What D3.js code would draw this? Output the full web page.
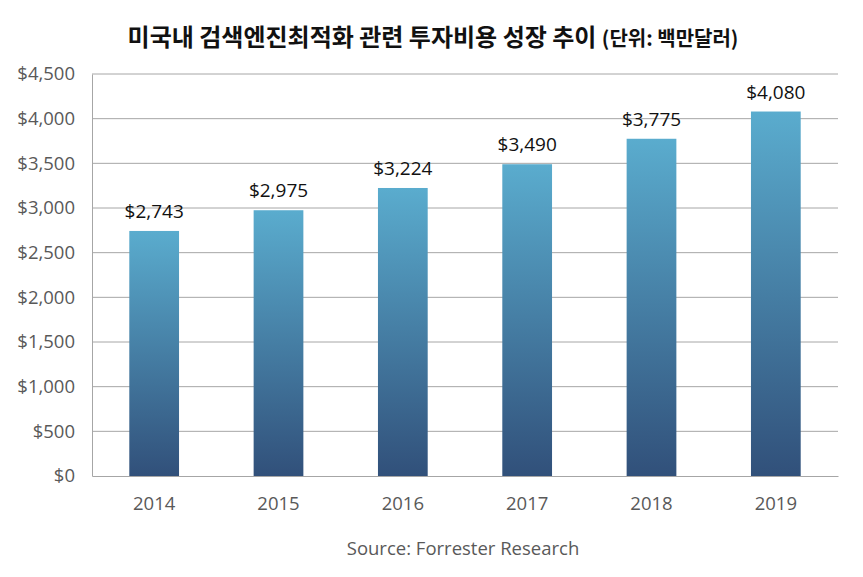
<!DOCTYPE html>
<html><head><meta charset="utf-8">
<script src="https://cdn.jsdelivr.net/npm/d3@7"></script>
<style>body{margin:0;background:#fff;} svg{display:block;}</style>
</head><body>
<script>
const years = ["2014","2015","2016","2017","2018","2019"];
const values = [2743, 2975, 3224, 3490, 3775, 4080];
const yTicks = [0,500,1000,1500,2000,2500,3000,3500,4000,4500];
const titleMain = "미국내 검색엔진최적화 관련 투자비용 성장 추이 ";
const titleUnit = "(단위: 백만달러)";
const sourceText = "Source: Forrester Research";

const W = 863, H = 577;
const m = {left: 92, right: 25, top: 74, bottom: 101};
const svg = d3.select("body").append("svg").attr("width", W).attr("height", H);

const x = d3.scaleBand().domain(years).range([m.left, W - m.right]).paddingInner(0.6).paddingOuter(0.3);
const y = d3.scaleLinear().domain([0, 4500]).range([H - m.bottom, m.top]);

const defs = svg.append("defs");
const g = defs.append("linearGradient").attr("id","barGrad").attr("x1",0).attr("y1",0).attr("x2",0).attr("y2",1);
g.append("stop").attr("offset","0%").attr("stop-color","#5aacce");
g.append("stop").attr("offset","100%").attr("stop-color","#31507a");

const font = "'Open Sans', 'Noto Sans', sans-serif";

// gridlines
svg.append("g").selectAll("line").data(yTicks.slice(1)).join("line")
  .attr("x1", m.left).attr("x2", W - m.right)
  .attr("y1", d => y(d)).attr("y2", d => y(d))
  .attr("stroke", "#a6a6a6").attr("stroke-width", 1);

// y axis
const yAxis = d3.axisLeft(y).tickValues(yTicks).tickSize(0).tickPadding(17)
  .tickFormat(d => "$" + d3.format(",")(d));
const ya = svg.append("g").attr("transform", `translate(${m.left},0)`).call(yAxis);
ya.select(".domain").attr("stroke", "#a6a6a6");
ya.selectAll("text").attr("font-family", font).attr("font-size", 18.5).attr("fill", "#595959");

// x axis
const xAxis = d3.axisBottom(x).tickSize(0).tickPadding(21);
const xa = svg.append("g").attr("transform", `translate(0,${y(0)})`).call(xAxis);
xa.select(".domain").attr("stroke", "#a6a6a6");
xa.selectAll("text").attr("font-family", font).attr("font-size", 18.5).attr("fill", "#595959");

// bars
svg.append("g").selectAll("rect").data(values).join("rect")
  .attr("x", (d,i) => x(years[i]))
  .attr("width", x.bandwidth())
  .attr("y", d => y(d))
  .attr("height", d => y(0) - y(d))
  .attr("fill", "url(#barGrad)");

// value labels
svg.append("g").selectAll("text").data(values).join("text")
  .attr("x", (d,i) => x(years[i]) + x.bandwidth()/2)
  .attr("y", d => y(d) - 13)
  .attr("text-anchor", "middle")
  .attr("font-family", font).attr("font-size", 19)
  .attr("fill", "#111")
  .text(d => "$" + d3.format(",")(d));

// title
const t = svg.append("text").attr("x", 433).attr("y", 46).attr("text-anchor","middle")
  .attr("font-family", "'Noto Sans CJK KR', sans-serif").attr("font-weight", "bold").attr("fill", "#111");
t.append("tspan").attr("font-size", 24).text(titleMain);
t.append("tspan").attr("font-size", 20).text(titleUnit);

// source
svg.append("text").attr("x", 463).attr("y", 555).attr("text-anchor","middle")
  .attr("font-family", font).attr("font-size", 18.5).attr("fill", "#595959")
  .text(sourceText);
</script>
</body></html>
